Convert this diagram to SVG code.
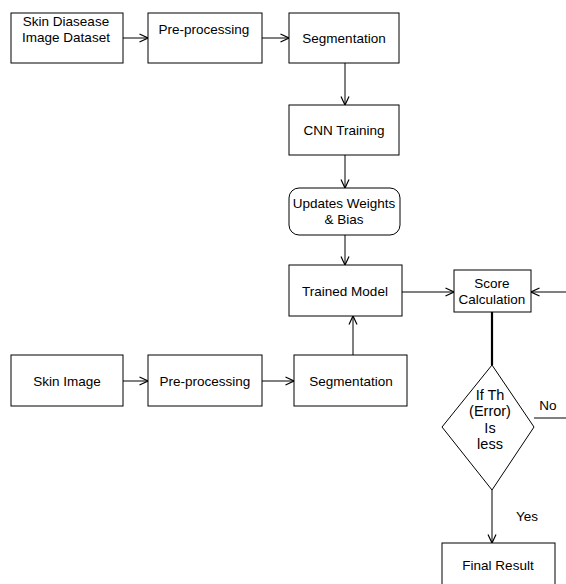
<svg xmlns="http://www.w3.org/2000/svg" width="566" height="584" viewBox="0 0 566 584">
<defs>
<style>
.box{fill:#fff;stroke:#000;stroke-width:1}
.t{font-family:"Liberation Sans",Arial,sans-serif;font-size:13.5px;fill:#000;text-anchor:middle;dominant-baseline:central}
.d{font-size:14.5px}
.c{stroke:#000;stroke-width:1;fill:none}
.thick{stroke:#000;stroke-width:2.2;fill:none}
</style>
<marker id="ah" viewBox="0 0 10 10" refX="9.5" refY="5" markerWidth="10" markerHeight="10" markerUnits="userSpaceOnUse" orient="auto">
<path d="M1,1 L9.5,5 L1,9" fill="none" stroke="#000" stroke-width="1.2"/>
</marker>
</defs>
<rect width="566" height="584" fill="#fff"/>
<g id="connectors">
<line class="c" x1="123" y1="38" x2="148" y2="38" marker-end="url(#ah)"/>
<line class="c" x1="262" y1="38" x2="289" y2="38" marker-end="url(#ah)"/>
<line class="c" x1="345" y1="63" x2="345" y2="105" marker-end="url(#ah)"/>
<line class="c" x1="345" y1="155" x2="345" y2="188" marker-end="url(#ah)"/>
<line class="c" x1="345" y1="235" x2="345" y2="265" marker-end="url(#ah)"/>
<line class="c" x1="402" y1="292" x2="454" y2="292" marker-end="url(#ah)"/>
<line class="c" x1="566" y1="292" x2="531" y2="292" marker-end="url(#ah)"/>
<line class="c" x1="123" y1="381" x2="148" y2="381" marker-end="url(#ah)"/>
<line class="c" x1="262" y1="381" x2="294" y2="381" marker-end="url(#ah)"/>
<line class="c" x1="353" y1="355" x2="353" y2="316" marker-end="url(#ah)"/>
<line class="thick" x1="492" y1="312" x2="492" y2="365"/>
<line class="c" x1="534" y1="418" x2="566" y2="418"/>
<line class="c" x1="492" y1="490" x2="492" y2="543" marker-end="url(#ah)"/>
<text class="t" x="548" y="405">No</text>
<text class="t" x="527" y="516">Yes</text>
</g>
<g id="n1"><rect class="box" x="11" y="13" width="112" height="50"/><text class="t" x="66" y="21">Skin Diasease</text><text class="t" x="66" y="37">Image Dataset</text></g>
<g id="n2"><rect class="box" x="148" y="13" width="114" height="50"/><text class="t" x="204" y="29">Pre-processing</text></g>
<g id="n3"><rect class="box" x="289" y="13" width="110" height="50"/><text class="t" x="344" y="38">Segmentation</text></g>
<g id="n4"><rect class="box" x="289" y="105" width="110" height="50"/><text class="t" x="344" y="130">CNN Training</text></g>
<g id="n5"><rect class="box" x="289" y="188" width="111" height="47" rx="10" ry="10"/><text class="t" x="344" y="203">Updates Weights</text><text class="t" x="344" y="219">&amp; Bias</text></g>
<g id="n6"><rect class="box" x="289" y="265" width="113" height="51"/><text class="t" x="345" y="291">Trained Model</text></g>
<g id="n7"><rect class="box" x="454" y="270" width="77" height="42"/><text class="t" x="492" y="283">Score</text><text class="t" x="492" y="299">Calculation</text></g>
<g id="n8"><rect class="box" x="11" y="355" width="112" height="51"/><text class="t" x="67" y="381">Skin Image</text></g>
<g id="n9"><rect class="box" x="148" y="355" width="114" height="51"/><text class="t" x="205" y="381">Pre-processing</text></g>
<g id="n10"><rect class="box" x="294" y="355" width="113" height="51"/><text class="t" x="351" y="381">Segmentation</text></g>
<g id="n11"><polygon class="box" points="492,365 534,427 492,490 442,427"/><text class="t d" x="490" y="395">If Th</text><text class="t d" x="490" y="411">(Error)</text><text class="t d" x="490" y="428">Is</text><text class="t d" x="490" y="444">less</text></g>
<g id="n12"><rect class="box" x="442" y="543" width="113" height="50"/><text class="t" x="498" y="565">Final Result</text></g>
</svg>
